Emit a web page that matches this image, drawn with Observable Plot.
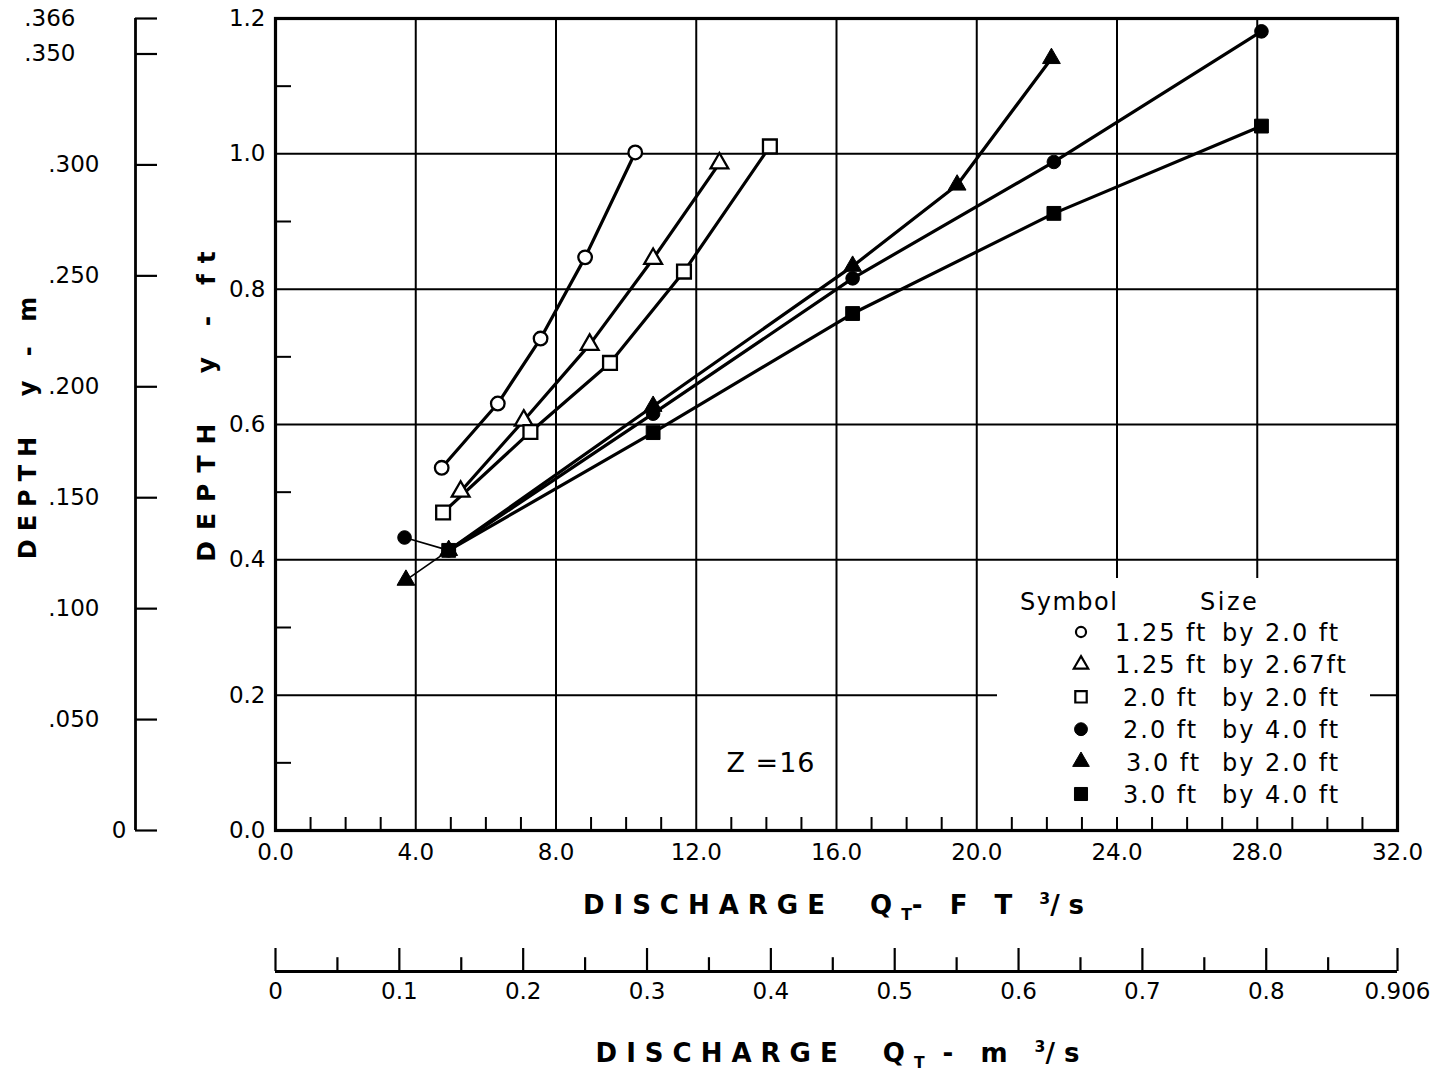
<!DOCTYPE html>
<html><head><meta charset="utf-8">
<script src="https://cdn.jsdelivr.net/npm/d3@7"></script>
<script src="https://cdn.jsdelivr.net/npm/@observablehq/plot@0.6"></script>
<style>
body{margin:0;background:#fff;}
#wrap{position:relative;width:1442px;height:1076px;font-family:"DejaVu Sans",sans-serif;color:#000;background:#fff;overflow:hidden;}
#wrap svg{position:absolute;overflow:visible;}
.t{position:absolute;white-space:nowrap;font-weight:bold;line-height:1;}
.t sub,.t sup{font-size:60%;letter-spacing:0;}
</style></head><body><div id="wrap"></div>
<script>
// ---------- data ----------
const sizeA = ["1.25 ft", "1.25 ft", "2.0 ft", "2.0 ft", "3.0 ft", "3.0 ft"];
const sizeB = ["2.0 ft", "2.67ft", "2.0 ft", "4.0 ft", "2.0 ft", "4.0 ft"];
const symbolTypes = ["circle", "triangle", "square", "circle", "triangle", "square"];
const filledFlags = [false, false, false, true, true, true];
const thinLead = [false, false, false, true, true, false];

const s1x = [4.74, 6.34, 7.56, 8.83, 10.26];
const s1y = [0.536, 0.631, 0.727, 0.847, 1.002];
const s2x = [5.28, 7.08, 8.96, 10.77, 12.66];
const s2y = [0.501, 0.606, 0.718, 0.845, 0.986];
const s3x = [4.78, 7.27, 9.54, 11.65, 14.10];
const s3y = [0.470, 0.589, 0.691, 0.826, 1.011];
const s4x = [3.68, 4.94, 10.77, 16.46, 22.20, 28.12];
const s4y = [0.433, 0.414, 0.616, 0.816, 0.988, 1.181];
const s5x = [3.72, 4.94, 10.77, 16.46, 19.44, 22.13];
const s5y = [0.370, 0.414, 0.627, 0.834, 0.954, 1.141];
const s6x = [4.94, 10.77, 16.46, 22.20, 28.12];
const s6y = [0.414, 0.588, 0.764, 0.912, 1.041];

const xTicks = [0, 4, 8, 12, 16, 20, 24, 28, 32];
const xGrid = [4, 8, 12, 16, 20, 24, 28];
const xMinor = [1, 2, 3, 5, 6, 7, 9, 10, 11, 13, 14, 15, 17, 18, 19, 21, 22, 23, 25, 26, 27, 29, 30, 31];
const yTicks = [0, 0.2, 0.4, 0.6, 0.8, 1.0, 1.2];
const yGrid = [0.2, 0.4, 0.6, 0.8, 1.0];
const yMinor = [0.1, 0.3, 0.5, 0.7, 0.9, 1.1];
const mDepthTicks = [0, 0.05, 0.10, 0.15, 0.20, 0.25, 0.30, 0.35, 0.366];
const mDepthLabelsMid = [0.05, 0.10, 0.15, 0.20, 0.25, 0.30];
const mDepthLabelsTop = [0.35, 0.366];
const mDepthLabelsZero = [0];
const qMajor = [0, 0.1, 0.2, 0.3, 0.4, 0.5, 0.6, 0.7, 0.8, 0.906];
const qMinor = [0.05, 0.15, 0.25, 0.35, 0.45, 0.55, 0.65, 0.75, 0.85];
const zLabel = "Z =16";

// ---------- build rows ----------
const xs = [s1x, s2x, s3x, s4x, s5x, s6x];
const ys = [s1y, s2y, s3y, s4y, s5y, s6y];
const rows = [];
xs.forEach((arr, s) => arr.forEach((x, i) => rows.push({s, i, x, y: ys[s][i]})));
const thick = rows.filter(d => !thinLead[d.s] || d.i >= 1);
const thin = rows.filter(d => thinLead[d.s] && d.i <= 1);

const dotR = {circle: 6.8, triangle: 6.6, square: 7.8};
const dotMarks = [0, 1, 2, 3, 4, 5].map(s => Plot.dot(rows.filter(d => d.s === s), {
  x: "x", y: "y", symbol: symbolTypes[s], r: dotR[symbolTypes[s]],
  fill: filledFlags[s] ? "#000" : "#fff", stroke: "#000", strokeWidth: filledFlags[s] ? 1 : 2.3
}));

const baseStyle = "background: transparent; font-family: 'DejaVu Sans', sans-serif; color: #000;";
const wrap = document.getElementById("wrap");

const main = Plot.plot({
  width: 1442, height: 880,
  marginTop: 18, marginRight: 45, marginBottom: 50, marginLeft: 275,
  x: {domain: [0, 32]}, y: {domain: [0, 1.2]},
  style: baseStyle + " font-size: 23px;",
  marks: [
    Plot.ruleX(xGrid, {stroke: "#000", strokeWidth: 2}),
    Plot.ruleY(yGrid, {stroke: "#000", strokeWidth: 2}),
    Plot.ruleX(xMinor, {x: d => d, y1: 0, y2: 0, insetTop: -13, stroke: "#000", strokeWidth: 2}),
    Plot.ruleY(yMinor, {y: d => d, x1: 0, x2: 0, insetRight: -16, stroke: "#000", strokeWidth: 2}),
    Plot.frame({stroke: "#000", strokeWidth: 3.2}),
    Plot.axisX({ticks: xTicks, tickSize: 0, tickPadding: 13, tickFormat: d => d.toFixed(1), label: null, fill: "#000"}),
    Plot.axisY({ticks: yTicks, tickSize: 0, tickPadding: 10, tickFormat: d => d.toFixed(1), label: null, fill: "#000"}),
    Plot.line(thin, {x: "x", y: "y", z: "s", stroke: "#000", strokeWidth: 1.7}),
    Plot.line(thick, {x: "x", y: "y", z: "s", stroke: "#000", strokeWidth: 3.2}),
    ...dotMarks
  ]
});
main.style.left = "0px"; main.style.top = "0px";
wrap.appendChild(main);

const fmtM = d => d === 0 ? "0" : d3.format(".3f")(d).replace(/^0/, "");
const leftAxis = Plot.plot({
  width: 275, height: 880, marginTop: 18, marginBottom: 50, marginLeft: 135, marginRight: 118,
  x: {domain: [0, 1], axis: null}, y: {domain: [0, 0.366]},
  style: baseStyle + " font-size: 23px;",
  marks: [
    Plot.ruleX([0], {stroke: "#000", strokeWidth: 2.8}),
    Plot.ruleY(mDepthTicks, {y: d => d, x1: 0, x2: 1, stroke: "#000", strokeWidth: 2.2}),
    Plot.axisY({ticks: mDepthLabelsMid, tickSize: 0, tickPadding: 36, tickFormat: fmtM, label: null, fill: "#000"}),
    Plot.axisY({ticks: mDepthLabelsTop, tickSize: 0, tickPadding: 60, tickFormat: fmtM, label: null, fill: "#000"}),
    Plot.axisY({ticks: mDepthLabelsZero, tickSize: 0, tickPadding: 9, tickFormat: fmtM, label: null, fill: "#000"})
  ]
});
leftAxis.style.left = "0px"; leftAxis.style.top = "0px";
wrap.appendChild(leftAxis);

const bottomAxis = Plot.plot({
  width: 1442, height: 100, marginTop: 18, marginBottom: 59, marginLeft: 275, marginRight: 45,
  x: {domain: [0, 0.906]}, y: {domain: [0, 1], axis: null},
  style: baseStyle + " font-size: 23px;",
  marks: [
    Plot.ruleY([0], {stroke: "#000", strokeWidth: 2.8}),
    Plot.ruleX(qMajor, {x: d => d, y1: 0, y2: 1, stroke: "#000", strokeWidth: 2.2}),
    Plot.ruleX(qMinor, {x: d => d, y1: 0, y2: 0.6, stroke: "#000", strokeWidth: 2.2}),
    Plot.axisX({ticks: qMajor, tickSize: 0, tickPadding: 11, tickFormat: d => d === 0 ? "0" : String(d), label: null, fill: "#000"})
  ]
});
bottomAxis.style.left = "0px"; bottomAxis.style.top = "930px";
wrap.appendChild(bottomAxis);

// ---------- legend ----------
const legW = 373, legH = 239;
const leg = d3.create("svg").attr("width", legW).attr("height", legH)
  .style("left", "997px").style("top", "578px")
  .style("font-family", "'DejaVu Sans', sans-serif").style("font-size", "24px");
leg.append("rect").attr("width", legW).attr("height", legH).attr("fill", "#fff");
leg.append("text").attr("x", 23).attr("y", 32).attr("letter-spacing", 1.5).text("Symbol");
leg.append("text").attr("x", 203).attr("y", 32).attr("letter-spacing", 2.5).text("Size");
const symMap = {circle: d3.symbolCircle, triangle: d3.symbolTriangle, square: d3.symbolSquare};
const legSize = {circle: [80, 130], triangle: [90, 120], square: [130, 170]};
const startX = [118, 118, 126, 126, 129, 126];
sizeA.forEach((a, k) => {
  const base = 63 + k * 32.4;
  const t = symbolTypes[k];
  leg.append("path")
    .attr("d", d3.symbol(symMap[t], legSize[t][filledFlags[k] ? 1 : 0])())
    .attr("transform", `translate(84,${base - 9})`)
    .attr("fill", filledFlags[k] ? "#000" : "#fff").attr("stroke", "#000").attr("stroke-width", filledFlags[k] ? 1 : 2.2);
  leg.append("text").attr("x", startX[k]).attr("y", base).attr("letter-spacing", 2).text(a);
  leg.append("text").attr("x", 225).attr("y", base).attr("letter-spacing", 2).text("by");
  leg.append("text").attr("x", 268).attr("y", base).attr("letter-spacing", 2).text(sizeB[k]);
});
wrap.appendChild(leg.node());

// ---------- titles ----------
function addText(html, cx, cy, size, spacing, rotate, bold) {
  const d = document.createElement("div");
  d.className = "t";
  d.innerHTML = html;
  d.style.left = cx + "px"; d.style.top = cy + "px";
  d.style.fontSize = size + "px";
  d.style.letterSpacing = spacing + "px";
  d.style.fontWeight = bold ? "bold" : "normal";
  d.style.transform = `translate(-50%,-50%)${rotate ? " rotate(-90deg)" : ""}`;
  wrap.appendChild(d);
}
addText("DEPTH&nbsp;&nbsp;y&nbsp;-&nbsp;ft", 206, 401, 25, 11, true, true);
addText("DEPTH&nbsp;&nbsp;y&nbsp;-&nbsp;m", 28, 424, 24, 8, true, true);
addText("DISCHARGE&nbsp;&nbsp;Q<sub>T</sub>-&nbsp;F&nbsp;T&nbsp;<sup>3</sup>/s", 838, 908, 26, 9, false, true);
addText("DISCHARGE&nbsp;&nbsp;Q<sub>T</sub>&nbsp;-&nbsp;m&nbsp;<sup>3</sup>/s", 842, 1056, 26, 9, false, true);
addText(zLabel, 771, 762, 27, 1, false, false);
</script></body></html>
